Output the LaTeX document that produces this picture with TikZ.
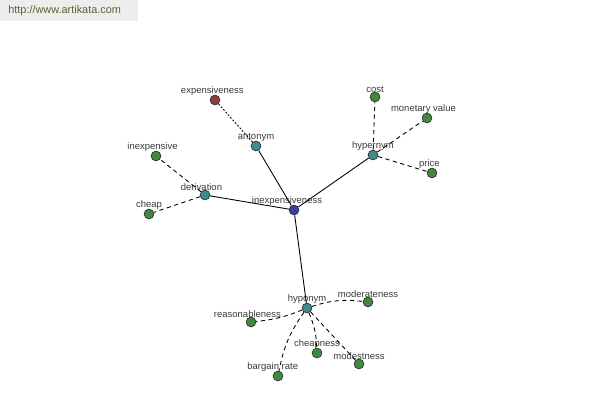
\documentclass[tikz,border=0pt]{standalone}
\usepackage{fontspec}
\setmainfont{Liberation Sans}
\usepackage{tikz}

\definecolor{wordblue}{HTML}{3D3D9E}
\definecolor{relteal}{HTML}{3F8C8C}
\definecolor{antired}{HTML}{8C3C3C}
\definecolor{leafgreen}{HTML}{3F8A3C}
\definecolor{labelgray}{HTML}{3A3A3A}
\definecolor{markolive}{HTML}{55652F}

\tikzset{
  word/.style={circle, draw=black!80, line width=0.4pt, minimum size=5.6pt, inner sep=0pt},
  wlabel/.style={font=\fontsize{5.4}{6}\selectfont, text=labelgray, inner sep=0.5pt, label distance=-1.2pt},
  link/.style={draw=black, line width=0.5pt},
  rel/.style={draw=black, line width=0.5pt, dash pattern=on 2.4pt off 2pt},
  anto/.style={draw=black, line width=0.5pt, dash pattern=on 1pt off 1pt}
}

\begin{document}
\begin{tikzpicture}[x=0.02cm, y=-0.02cm]

\useasboundingbox (0,0) rectangle (600,400);

% watermark
\fill[black!7] (0,0) rectangle (138,21);
\node[font=\fontsize{6.2}{7}\selectfont, text=markolive, anchor=west, inner sep=0pt] (mark) at (8,10.5) {http://www.artikata.com};

% centre word
\node[word, fill=wordblue, label={[wlabel, xshift=-4pt]above:inexpensiveness}] (inexpensiveness) at (294,210) {};

% relation nodes
\node[word, fill=relteal, label={[wlabel]above:antonym}] (antonym) at (256,146) {};
\node[word, fill=relteal, label={[wlabel, xshift=-2pt]above:derivation}] (derivation) at (205,195) {};
\node[word, fill=relteal, label={[wlabel]above:hypernym}] (hypernym) at (373,155) {};
\node[word, fill=relteal, label={[wlabel]above:hyponym}] (hyponym) at (307,308) {};

% antonym
\node[word, fill=antired, label={[wlabel, xshift=-1.5pt]above:expensiveness}] (expensiveness) at (215,100) {};

% derivation
\node[word, fill=leafgreen, label={[wlabel, xshift=-2pt]above:inexpensive}] (inexpensive) at (156,156) {};
\node[word, fill=leafgreen, label={[wlabel]above:cheap}] (cheap) at (149,214) {};

% hypernym
\node[word, fill=leafgreen, label={[wlabel]above:cost}] (cost) at (375,97) {};
\node[word, fill=leafgreen, label={[wlabel, xshift=-2pt]above:monetary value}] (monetary) at (427,118) {};
\node[word, fill=leafgreen, label={[wlabel, xshift=-1.5pt]above:price}] (price) at (432,173) {};

% hyponym
\node[word, fill=leafgreen, label={[wlabel]above:moderateness}] (moderateness) at (368,302) {};
\node[word, fill=leafgreen, label={[wlabel, xshift=-2pt]above:reasonableness}] (reasonableness) at (251,322) {};
\node[word, fill=leafgreen, label={[wlabel]above:cheapness}] (cheapness) at (317,353) {};
\node[word, fill=leafgreen, label={[wlabel]above:modestness}] (modestness) at (359,364) {};
\node[word, fill=leafgreen, label={[wlabel, xshift=-3pt]above:bargain rate}] (bargain) at (278,376) {};

% solid links from the centre
\draw[link] (inexpensiveness) -- (antonym);
\draw[link] (inexpensiveness) -- (derivation);
\draw[link] (inexpensiveness) -- (hypernym);
\draw[link] (inexpensiveness) -- (hyponym);

% dashed links to the words
\draw[anto] (antonym) -- (expensiveness);
\draw[rel] (derivation) -- (inexpensive);
\draw[rel] (derivation) -- (cheap);
\draw[rel] (hypernym) -- (cost);
\draw[rel] (hypernym) -- (monetary);
\draw[rel] (hypernym) -- (price);
\draw[rel] (hyponym) to[bend left=12] (moderateness);
\draw[rel] (hyponym) to[bend left=8] (reasonableness);
\draw[rel] (hyponym) to[bend left=10] (cheapness);
\draw[rel] (hyponym) -- (modestness);
\draw[rel] (hyponym) to[bend right=12] (bargain);

\end{tikzpicture}
\end{document}
